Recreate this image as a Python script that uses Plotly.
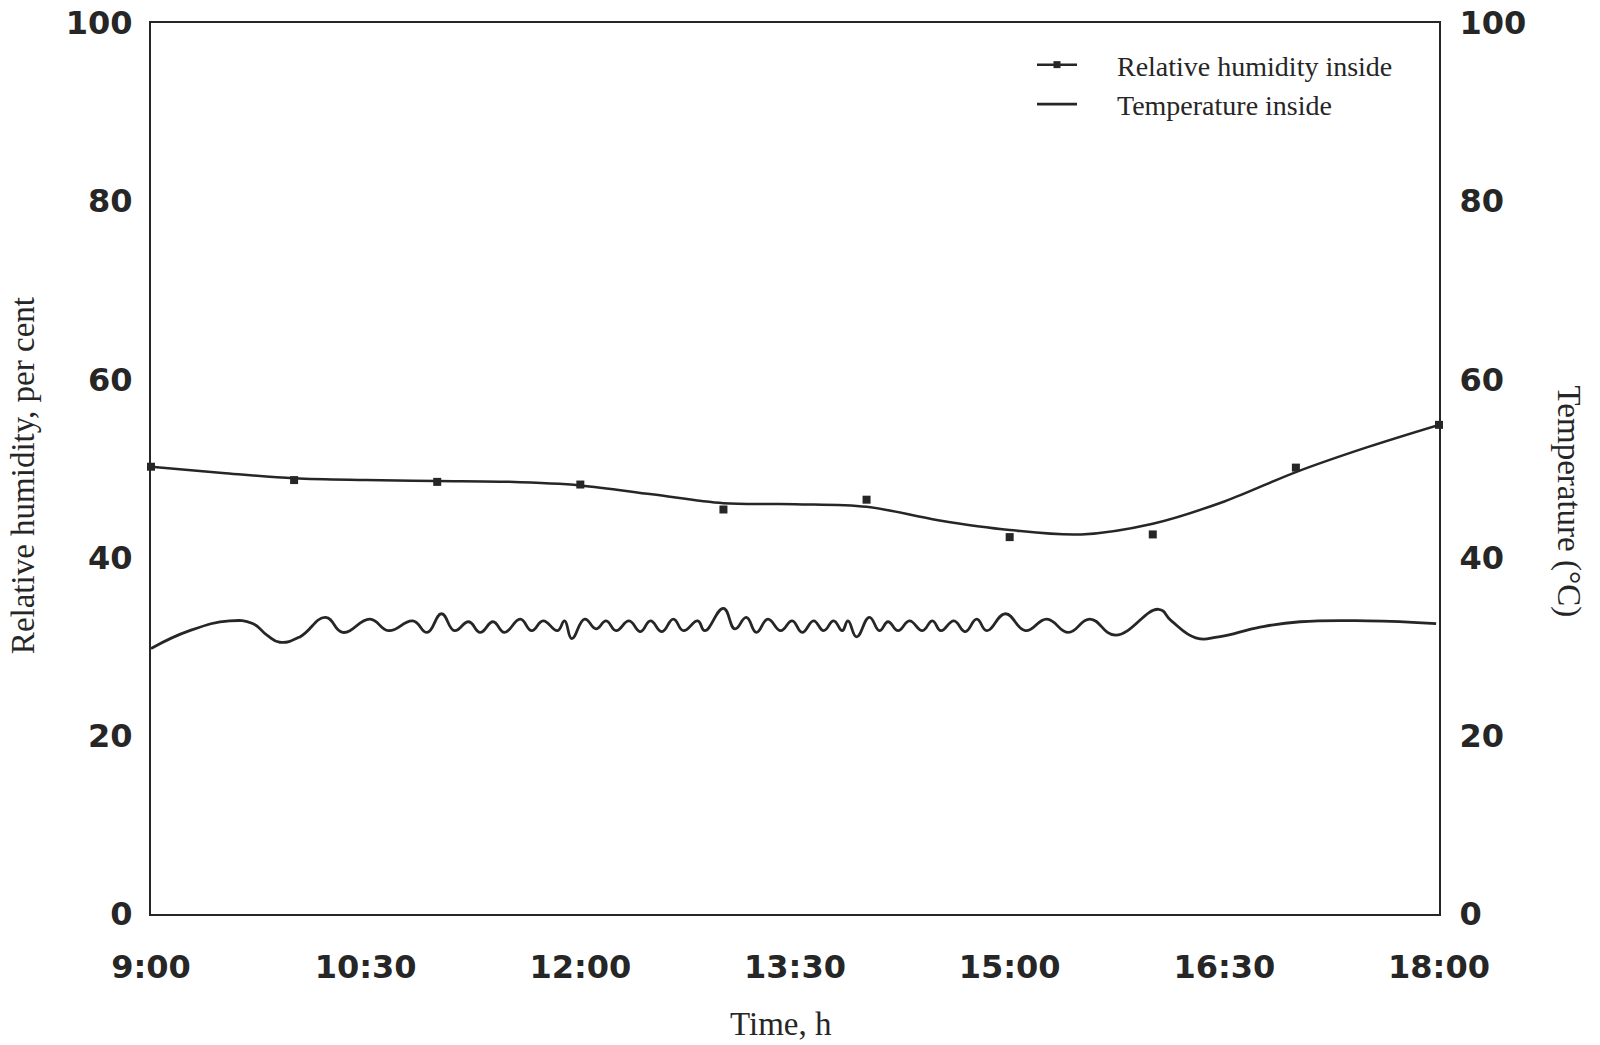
import plotly.graph_objects as go

# ---------------- data (time in decimal hours) ----------------
RH_MEAS_T = [9.0, 10.0, 11.0, 12.0, 13.0, 14.0, 15.0, 16.0, 17.0, 18.0]
RH_MEAS_V = [50.2, 48.7, 48.5, 48.2, 45.4, 46.5, 42.3, 42.6, 50.1, 54.9]

RH_CURVE_T = [9.0, 9.5, 10.0, 10.5, 11.0, 11.5, 12.0, 12.5, 13.0, 13.5, 14.0,
              14.5, 15.0, 15.5, 16.0, 16.5, 17.0, 17.5, 18.0]
RH_CURVE_V = [50.2, 49.5, 48.9, 48.7, 48.6, 48.5, 48.1, 47.1, 46.1, 46.0, 45.7,
              44.2, 43.1, 42.6, 43.8, 46.3, 49.6, 52.4, 54.9]

TEMP_T = [9.00, 9.27, 9.55, 9.71, 9.81, 9.90, 10.04, 10.22, 10.34, 10.53, 10.66,
          10.83, 10.93, 11.03, 11.12, 11.22, 11.30, 11.39, 11.47, 11.58, 11.66,
          11.74, 11.84, 11.89, 11.94, 12.03, 12.11, 12.18, 12.25, 12.34, 12.42,
          12.49, 12.57, 12.65, 12.72, 12.82, 12.87, 13.00, 13.08, 13.16, 13.23,
          13.31, 13.40, 13.48, 13.55, 13.63, 13.70, 13.77, 13.83, 13.87, 13.93,
          14.02, 14.09, 14.15, 14.22, 14.30, 14.39, 14.46, 14.52, 14.61, 14.69,
          14.77, 14.84, 14.97, 15.11, 15.26, 15.41, 15.56, 15.74, 16.04, 16.13,
          16.30, 16.46, 16.75, 17.03, 17.50, 17.98]
TEMP_V = [29.8, 31.8, 32.9, 32.6, 31.3, 30.5, 31.1, 33.3, 31.6, 33.1, 31.8,
          32.9, 31.6, 33.7, 31.8, 32.8, 31.6, 32.8, 31.6, 33.1, 31.8,
          32.9, 31.8, 32.9, 30.9, 33.1, 32.0, 32.9, 31.8, 32.9, 31.7,
          32.9, 31.7, 33.1, 31.8, 32.9, 31.8, 34.3, 32.0, 33.3, 31.6,
          33.1, 31.8, 32.9, 31.6, 32.9, 31.8, 32.9, 31.8, 32.9, 31.1,
          33.3, 31.8, 32.8, 31.8, 32.9, 31.8, 32.9, 31.8, 32.9, 31.7,
          33.1, 31.8, 33.7, 31.8, 33.1, 31.6, 33.1, 31.3, 34.2, 32.9,
          31.0, 31.1, 32.2, 32.8, 32.9, 32.6]

X_TICKS = [9.0, 10.5, 12.0, 13.5, 15.0, 16.5, 18.0]
X_LABELS = ["9:00", "10:30", "12:00", "13:30", "15:00", "16:30", "18:00"]
Y_TICKS = [0, 20, 40, 60, 80, 100]

INK = "#262626"
SERIF = "Liberation Serif, Times New Roman, serif"
NB = "\u00a0" * 5

fig = go.Figure()

# Humidity fitted curve
fig.add_trace(go.Scatter(
    x=RH_CURVE_T, y=RH_CURVE_V, mode="lines", line=dict(color=INK, width=2.5, shape="spline"),
    showlegend=False, hoverinfo="skip"))
# Humidity measured points
fig.add_trace(go.Scatter(
    x=RH_MEAS_T, y=RH_MEAS_V, mode="markers",
    marker=dict(symbol="square", size=8, color=INK), showlegend=False, cliponaxis=False))
# legend entry for humidity
fig.add_trace(go.Scatter(
    x=[None], y=[None], mode="lines+markers", name=NB + "Relative humidity inside",
    line=dict(color=INK, width=2.5), marker=dict(symbol="square", size=7, color=INK)))
# Temperature
fig.add_trace(go.Scatter(
    x=TEMP_T, y=TEMP_V, mode="lines", name=NB + "Temperature inside", yaxis="y2",
    line=dict(color=INK, width=2.8, shape="spline", smoothing=1.3)))

def axis_common(size):
    return dict(showgrid=False, zeroline=False, showline=True, linecolor=INK, linewidth=2,
                ticks="", automargin=False,
                tickfont=dict(family="DejaVu Sans", size=size, color=INK, weight="bold"))

fig.update_layout(
    width=1600, height=1045,
    paper_bgcolor="white", plot_bgcolor="white",
    margin=dict(l=151, r=161, t=23, b=131),
    xaxis=dict(range=[9, 18], tickvals=X_TICKS, ticktext=X_LABELS, mirror=True,
               ticklabelstandoff=24, **axis_common(32)),
    yaxis=dict(range=[0, 100], tickvals=Y_TICKS, mirror=True, ticklabelstandoff=10,
               **axis_common(32)),
    yaxis2=dict(range=[0, 100], tickvals=Y_TICKS, overlaying="y", side="right",
                ticklabelstandoff=12, **axis_common(32)),
    legend=dict(x=0.684, y=0.981, xanchor="left", yanchor="top", bgcolor="rgba(0,0,0,0)",
                font=dict(family=SERIF, size=28, color=INK), tracegroupgap=0,
                itemwidth=40),
    annotations=[
        dict(text="Relative humidity, per cent", xref="paper", yref="paper",
             x=-151 / 1288 + 22.5 / 1288, y=0.492, textangle=-90, showarrow=False,
             xanchor="center", yanchor="middle", font=dict(family=SERIF, size=33, color=INK)),
        dict(text="Temperature (°C)", xref="paper", yref="paper",
             x=1 + (1569 - 1439) / 1288, y=0.463, textangle=90, showarrow=False,
             xanchor="center", yanchor="middle", font=dict(family=SERIF, size=33, color=INK)),
        dict(text="Time, h", xref="paper", yref="paper",
             x=0.489, y=-110 / 890.8, showarrow=False,
             xanchor="center", yanchor="middle", font=dict(family=SERIF, size=33, color=INK)),
    ],
)

fig.write_html("out.html")
